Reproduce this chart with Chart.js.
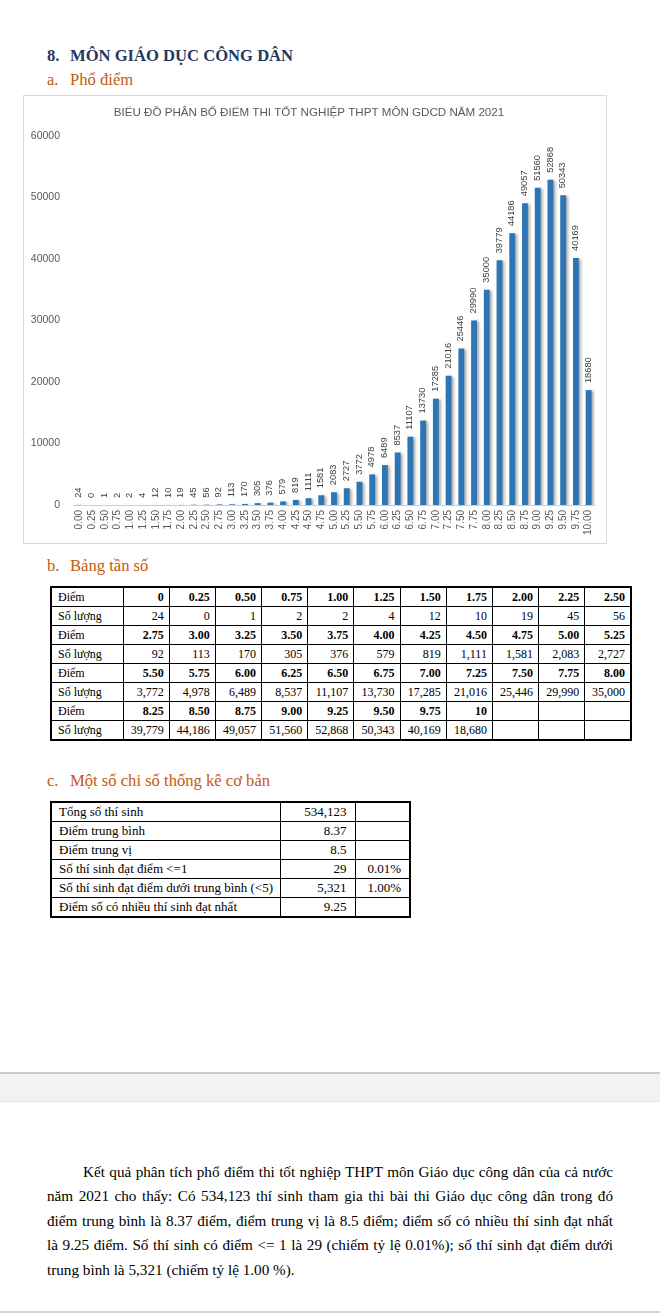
<!DOCTYPE html>
<html>
<head>
<meta charset="utf-8">
<script src="https://cdn.jsdelivr.net/npm/chart.js@4.4.1/dist/chart.umd.min.js"></script>
<style>
    body { margin: 0; background: #fff; width: 660px; height: 1313px; position: relative; overflow: hidden;
        font-family: "Liberation Serif", "Times New Roman", serif; color: #000; }
    .abs { position: absolute; white-space: nowrap; }
    .mk { display: inline-block; width: 23px; }
    .h8 { left: 47px; top: 46px; font-size: 16.6px; line-height: 20px; font-weight: bold; color: #1f3864; }
    .sub { left: 47px; font-size: 16.6px; line-height: 20px; color: #c45911; }
    #chartBox { position: absolute; left: 23px; top: 95px; width: 584px; height: 449px; box-sizing: border-box;
        border: 1px solid #d9d9d9; }
    #chart { position: absolute; left: 23px; top: 95px; }
    table { position: absolute; border-collapse: collapse; border: 2px solid #000; font-size: 12px; }
    td { border: 1px solid #000; height: 18px; line-height: 18px; padding: 0 5px 0 6px; text-align: right;
        white-space: nowrap; overflow: hidden; }
    td.lbl { text-align: left; }
    #freq { left: 50px; top: 586px; width: 582px; table-layout: fixed; }
    #freq tr.score td { font-weight: bold; }
    #freq tr.score td.lbl { font-weight: normal; }
    #stats { left: 50px; top: 801px; width: 359px; table-layout: fixed; font-size: 13px; }
    #stats td { padding: 0 8px 0 7px; }
    #band { position: absolute; left: 0; top: 1072px; width: 660px; height: 27px; background: #f1f2f4;
        border-top: 2px solid #c9cbc9; border-bottom: 1px solid #e3e5e8; }
    #para { position: absolute; left: 47px; top: 1160px; width: 566px; font-size: 15.2px; line-height: 24.4px; }
    #para span { display: block; text-align: justify; text-align-last: justify; }
    #para span.first { text-indent: 36px; }
    #para span.last { text-align-last: left; }
    #bottomLine { position: absolute; left: 0; top: 1311px; width: 660px; height: 2px; background: #d4d4d4; }
</style>
</head>
<body>
<div class="abs h8"><span class="mk">8.</span>MÔN GIÁO DỤC CÔNG DÂN</div>
<div class="abs sub" style="top:70px"><span class="mk">a.</span>Phổ điểm</div>
<div id="chartBox"></div>
<canvas id="chart" width="584" height="449"></canvas>

<div class="abs sub" style="top:556px"><span class="mk">b.</span>Bảng tần số</div>
<table id="freq"></table>

<div class="abs sub" style="top:771px"><span class="mk">c.</span>Một số chi số thống kê cơ bản</div>
<table id="stats">
    <colgroup><col style="width:229px"><col style="width:75px"><col style="width:55px"></colgroup>
</table>

<div id="band"></div>

<div id="para">
    <span class="first">Kết quả phân tích phổ điểm thi tốt nghiệp THPT môn Giáo dục công dân của cả nước</span>
    <span>năm 2021 cho thấy: Có 534,123 thí sinh tham gia thi bài thi Giáo dục công dân trong đó</span>
    <span>điểm trung bình là 8.37 điểm, điểm trung vị là 8.5 điểm; điểm số có nhiều thí sinh đạt nhất</span>
    <span>là 9.25 điểm. Số thí sinh có điểm &lt;= 1 là 29 (chiếm tỷ lệ 0.01%); số thí sinh đạt điểm dưới</span>
    <span class="last">trung bình là 5,321 (chiếm tỷ lệ 1.00 %).</span>
</div>
<div id="bottomLine"></div>

<script>
const chartTitle = 'BIỂU ĐỒ PHÂN BỐ ĐIỂM THI TỐT NGHIỆP THPT MÔN GDCD NĂM 2021';

const scoreLabels = ['0.00', '0.25', '0.50', '0.75', '1.00', '1.25', '1.50', '1.75', '2.00', '2.25', '2.50',
    '2.75', '3.00', '3.25', '3.50', '3.75', '4.00', '4.25', '4.50', '4.75', '5.00', '5.25',
    '5.50', '5.75', '6.00', '6.25', '6.50', '6.75', '7.00', '7.25', '7.50', '7.75', '8.00',
    '8.25', '8.50', '8.75', '9.00', '9.25', '9.50', '9.75', '10.00'];

const counts = [24, 0, 1, 2, 2, 4, 12, 10, 19, 45, 56,
    92, 113, 170, 305, 376, 579, 819, 1111, 1581, 2083, 2727,
    3772, 4978, 6489, 8537, 11107, 13730, 17285, 21016, 25446, 29990, 35000,
    39779, 44186, 49057, 51560, 52868, 50343, 40169, 18680];

const yTicks = [0, 10000, 20000, 30000, 40000, 50000, 60000];

const statLabels = ['Tổng số thí sinh', 'Điểm trung bình', 'Điểm trung vị', 'Số thí sinh đạt điểm <=1',
    'Số thí sinh đạt điểm dưới trung bình (<5)', 'Điểm số có nhiều thí sinh đạt nhất'];
const statValues = ['534,123', '8.37', '8.5', '29', '5,321', '9.25'];
const statPercents = ['', '', '', '0.01%', '1.00%', ''];

// Frequency table: 11 columns per row pair
const freq = document.getElementById('freq');
let colHtml = '<colgroup><col style="width:72px">';
for (let i = 0; i < 11; i++) colHtml += '<col>';
freq.innerHTML = colHtml + '</colgroup>';
for (let start = 0; start < scoreLabels.length; start += 11) {
    const scoreRow = document.createElement('tr');
    scoreRow.className = 'score';
    const countRow = document.createElement('tr');
    let s = '<td class="lbl">Điểm</td>';
    let c = '<td class="lbl">Số lượng</td>';
    for (let i = start; i < start + 11; i++) {
        if (i < scoreLabels.length) {
            let lab = scoreLabels[i];
            if (lab === '0.00') lab = '0';
            if (lab === '10.00') lab = '10';
            s += `<td>${lab}</td>`;
            c += `<td>${counts[i].toLocaleString('en-US')}</td>`;
        } else {
            s += '<td></td>';
            c += '<td></td>';
        }
    }
    scoreRow.innerHTML = s;
    countRow.innerHTML = c;
    freq.appendChild(scoreRow);
    freq.appendChild(countRow);
}

// Stats table
const stats = document.getElementById('stats');
statLabels.forEach((label, i) => {
    const tr = document.createElement('tr');
    const a = document.createElement('td');
    a.className = 'lbl';
    a.textContent = label;
    const b = document.createElement('td');
    b.textContent = statValues[i];
    const p = document.createElement('td');
    p.textContent = statPercents[i];
    tr.append(a, b, p);
    stats.appendChild(tr);
});

// Excel-like soft shadow under the bars
const shadowPlugin = {
    id: 'barShadow',
    beforeDatasetsDraw(chart) {
        const ctx = chart.ctx;
        ctx.save();
        ctx.shadowColor = 'rgba(0,0,0,0.35)';
        ctx.shadowBlur = 3;
        ctx.shadowOffsetX = 2;
        ctx.shadowOffsetY = 1;
    },
    afterDatasetsDraw(chart) {
        chart.ctx.restore();
    }
};

// Vertical value labels above bars
const valueLabels = {
    id: 'valueLabels',
    afterDatasetsDraw(chart) {
        const ctx = chart.ctx;
        const meta = chart.getDatasetMeta(0);
        ctx.save();
        ctx.fillStyle = '#404040';
        ctx.font = '9.3px "Liberation Sans", Arial, sans-serif';
        ctx.textAlign = 'left';
        ctx.textBaseline = 'middle';
        meta.data.forEach((bar, i) => {
            ctx.save();
            ctx.translate(bar.x - 0.5, bar.y - 7);
            ctx.rotate(-Math.PI / 2);
            ctx.fillText(String(counts[i]), 0, 0);
            ctx.restore();
        });
        ctx.restore();
    }
};

Chart.defaults.font.family = '"Liberation Sans", Arial, sans-serif';

new Chart(document.getElementById('chart').getContext('2d'), {
    type: 'bar',
    data: {
        labels: scoreLabels,
        datasets: [{
            data: counts,
            backgroundColor: '#2e75b6',
            categoryPercentage: 1,
            barPercentage: 0.46
        }]
    },
    options: {
        responsive: false,
        animation: false,
        layout: { padding: { left: 0, right: 12, top: 0, bottom: 0 } },
        plugins: {
            legend: { display: false },
            tooltip: { enabled: false },
            title: {
                display: true,
                text: chartTitle,
                color: '#595959',
                font: { size: 11.6, weight: 'normal' },
                padding: { top: 11, bottom: 16 }
            }
        },
        scales: {
            x: {
                grid: { display: false, drawTicks: false },
                border: { color: '#c5cfdb' },
                ticks: { color: '#595959', font: { size: 10 }, minRotation: 90, maxRotation: 90, padding: 5, autoSkip: false },
                afterFit(scale) { scale.height = 39; }
            },
            y: {
                min: yTicks[0],
                max: yTicks[yTicks.length - 1],
                grid: { display: false, drawTicks: false },
                border: { display: false },
                ticks: { stepSize: yTicks[1] - yTicks[0], color: '#595959', font: { size: 10.5 }, padding: 13,
                    callback: v => String(v) },
                afterFit(scale) { scale.width = 50; }
            }
        }
    },
    plugins: [shadowPlugin, valueLabels]
});
</script>
</body>
</html>
